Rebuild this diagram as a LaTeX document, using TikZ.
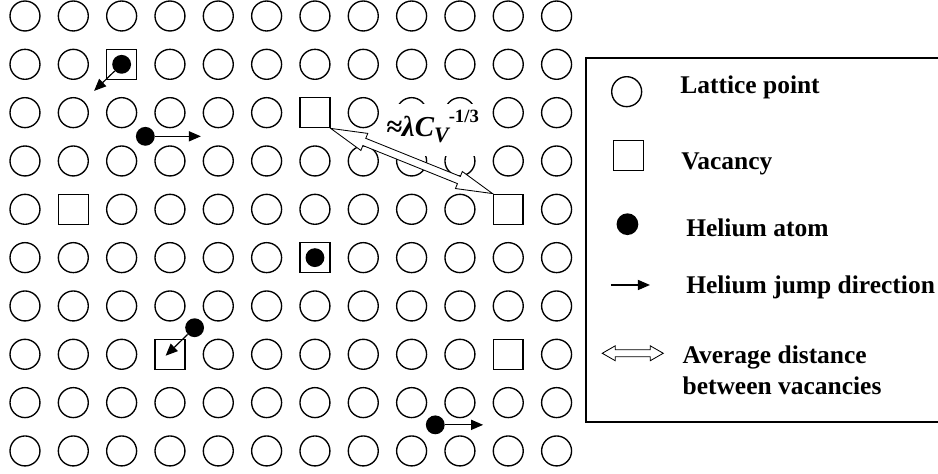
\documentclass[tikz,border=0pt]{standalone}
\usepackage{fontspec}
\setmainfont{Liberation Serif}
\usetikzlibrary{calc,arrows.meta}
\tikzset{
  site/.style={circle,draw=black,line width=0.8pt,minimum size=0.62cm,inner sep=0pt},
  vac/.style={rectangle,draw=black,line width=0.9pt,fill=white,minimum size=0.62cm,inner sep=0pt},
  he/.style={circle,fill=black,minimum size=0.39cm,inner sep=0pt},
  jump/.style={-{Triangle[length=0.25cm,width=0.21cm]},line width=0.7pt},
  hollow/.style={draw=black,fill=white,line width=0.5pt,line join=miter},
  frame/.style={draw=black,line width=1pt},
  lbl/.style={anchor=base west,inner sep=0pt,font=\fontsize{15}{18}\selectfont\bfseries},
}
\tikzset{dist/.style={anchor=base,fill=white,inner sep=0pt,text height=0.68cm,text depth=0.4cm,
    minimum width=2.17cm,font=\fontsize{17}{20}\selectfont\bfseries\itshape}}
% hollow double-headed arrow: from, to, head length, head half width, shaft half width
\newcommand{\outlinearrow}[5]{%
  \draw[hollow] (#1)
    -- ($(#1)!#3!(#2)!#4!90:(#2)$)
    -- ($(#1)!#3!(#2)!#5!90:(#2)$)
    -- ($(#2)!#3!(#1)!#5!-90:(#1)$)
    -- ($(#2)!#3!(#1)!#4!-90:(#1)$)
    -- (#2)
    -- ($(#2)!#3!(#1)!#4!90:(#1)$)
    -- ($(#2)!#3!(#1)!#5!90:(#1)$)
    -- ($(#1)!#3!(#2)!#5!-90:(#2)$)
    -- ($(#1)!#3!(#2)!#4!-90:(#2)$)
    -- cycle;}

\begin{document}
\begin{tikzpicture}
\useasboundingbox (-0.517,0.331) rectangle (18.892,-9.476);
% lattice sites, the vacant ones left out
\foreach \r/\cols in {0/{0,...,11},1/{0,1,3,4,...,11},2/{0,...,5,7,8,...,11},3/{0,...,11},
    4/{0,2,3,...,9,11},5/{0,...,5,7,8,...,11},6/{0,...,11},7/{0,1,2,4,5,...,9,11},
    8/{0,...,11},9/{0,...,11}}
  \foreach \c in \cols
    \node[site] (s\c-\r) at (\c,-\r) {};
% vacancies
\foreach \c/\r in {2/1,6/2,1/4,10/4,6/5,3/7,10/7}
  \node[vac] (v\c-\r) at (\c,-\r) {};
% helium atoms and their jumps
\node[he] (he1) at (2,-1) {};
\node[he] (he2) at (2.49,-2.49) {};
\node[he] (he3) at (6,-5) {};
\node[he] (he4) at (3.51,-6.45) {};
\node[he] (he5) at (8.49,-8.46) {};
\coordinate (t1) at (1.43,-1.55);
\coordinate (t2) at (3.64,-2.49);
\coordinate (t4) at (2.91,-7.03);
\coordinate (t5) at (9.48,-8.46);
\draw[jump] (he1) -- (t1);
\draw[jump] (he2) -- (t2);
\draw[jump] (he4) -- (t4);
\draw[jump] (he5) -- (t5);
% mean vacancy spacing
\node[dist] (cv) at (8.432,-2.497) {≈λC\raisebox{-0.13cm}{\fontsize{13}{15}\selectfont V}\raisebox{0.3cm}{\upshape\fontsize{11}{13}\selectfont -1/3}};
\outlinearrow{v6-2.south east}{v10-4.north west}{0.75cm}{0.19cm}{0.08cm}
% legend, open on the right
\draw[frame] (18.95,-0.875) -- (11.608,-0.875) -- (11.608,-8.405) -- (18.95,-8.405);
\node[site] (keySite) at (12.45,-1.566) {};
\node[lbl] (txtSite) at (13.553,-1.599) {Lattice point};
\node[vac] (keyVac) at (12.491,-2.891) {};
\node[lbl] (txtVac) at (13.573,-3.172) {Vacancy};
\node[he,minimum size=0.45cm] (keyHe) at (12.466,-4.308) {};
\node[lbl] (txtHe) at (13.676,-4.567) {Helium atom};
\coordinate (jA) at (12.125,-5.566);
\coordinate (jB) at (12.932,-5.566);
\draw[jump] (jA) -- (jB);
\node[lbl] (txtJump) at (13.676,-5.738) {Helium jump direction};
\coordinate (dA) at (11.945,-6.979);
\coordinate (dB) at (13.207,-6.979);
\outlinearrow{dA}{dB}{0.27cm}{0.155cm}{0.072cm}
\node[lbl] (txtAvg) at (13.6,-7.186) {Average distance};
\node[lbl] (txtBtw) at (13.6,-7.842) {between vacancies};
\end{tikzpicture}
\end{document}
